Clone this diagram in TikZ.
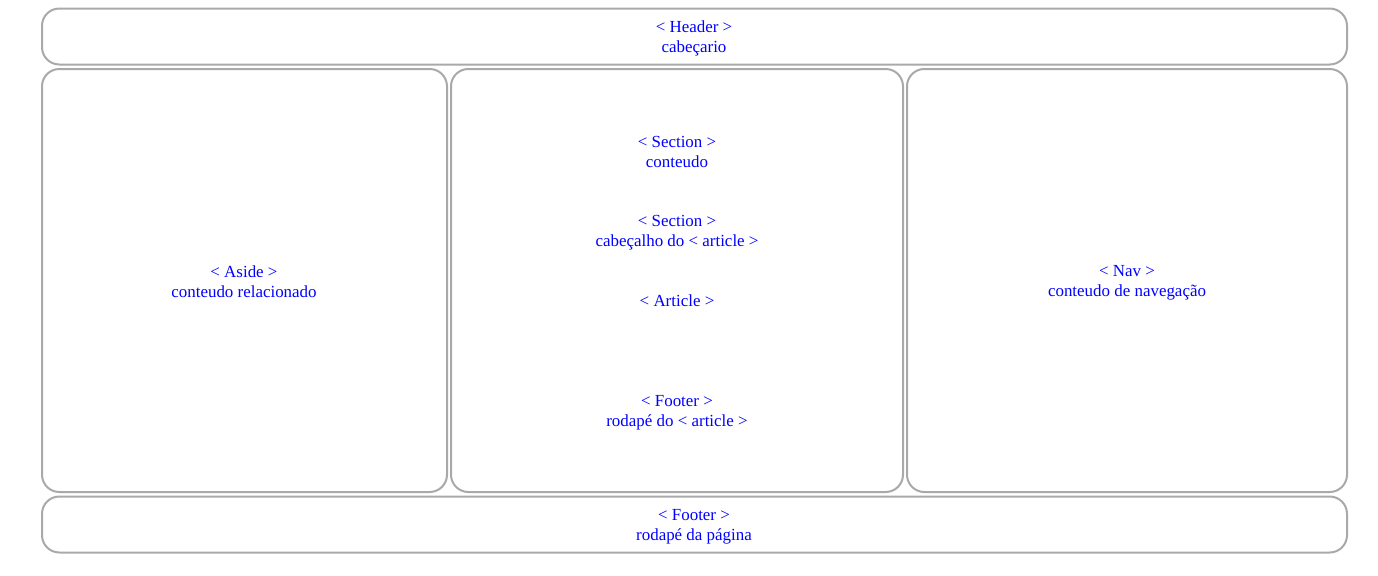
\documentclass[tikz,border=0pt]{standalone}
\usepackage{fontspec}
\setmainfont{Liberation Serif}
\definecolor{boxgray}{HTML}{A9A9A9}
\definecolor{txtblue}{HTML}{0000FF}
\begin{document}
\begin{tikzpicture}[x=0.75pt,y=-0.75pt,
  box/.style={draw=boxgray,line width=1.5pt,rounded corners=13pt,inner sep=0pt,fill=none},
  lbl/.style={text=txtblue,font=\fontsize{12.7pt}{15pt}\selectfont,align=center,inner sep=0pt}]
\useasboundingbox (0,0) rectangle (1378,575);
\node[box,minimum width=1305*0.75pt,minimum height=56*0.75pt] (header) at (694.5,36.5) {};
\node[box,minimum width=405*0.75pt,minimum height=423*0.75pt] (aside) at (244.5,280.5) {};
\node[box,minimum width=452*0.75pt,minimum height=423*0.75pt] (section) at (677,280.5) {};
\node[box,minimum width=440*0.75pt,minimum height=423*0.75pt] (nav) at (1127,280.5) {};
\node[box,minimum width=1305*0.75pt,minimum height=56*0.75pt] (footer) at (694.5,524.5) {};

\node[lbl] (tHeader) at (694,38.5) {< Header >\\cabeçario};
\node[lbl] (tAside) at (244,281.5) {< Aside >\\conteudo relacionado};
\node[lbl] (tSec1) at (677,152) {< Section >\\conteudo};
\node[lbl] (tSec2) at (677,232.5) {< Section >\\cabeçalho do < article >};
\node[lbl] (tArt) at (677,301) {< Article >};
\node[lbl] (tFootA) at (677,412.5) {< Footer >\\rodapé do < article >};
\node[lbl] (tNav) at (1127,282.5) {< Nav >\\conteudo de navegação};
\node[lbl] (tFooter) at (694,526.5) {< Footer >\\rodapé da página};
\end{tikzpicture}
\end{document}
